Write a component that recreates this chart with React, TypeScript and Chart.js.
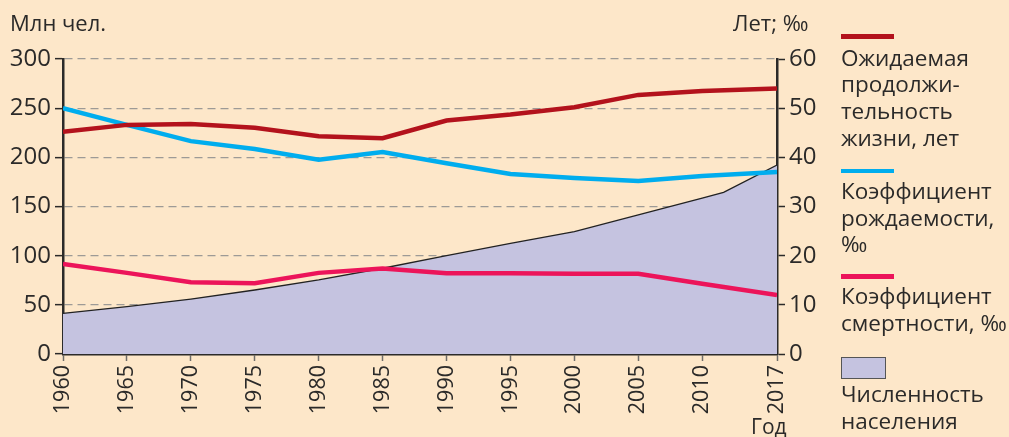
import React, { useEffect, useRef } from "react";
import { Chart, registerables } from "chart.js";

Chart.register(...registerables);

const years = [1960, 1965, 1970, 1975, 1980, 1985, 1990, 1995, 2000, 2005, 2010, 2017];
const lifeExpectancy = [45.2, 46.6, 46.8, 46.0, 44.3, 43.9, 47.5, 48.7, 50.2, 52.7, 53.5, 54.0];
const birthRate = [50.0, 46.6, 43.3, 41.7, 39.5, 41.1, 38.8, 36.6, 35.8, 35.2, 36.2, 37.0];
const deathRate = [18.3, 16.5, 14.6, 14.4, 16.5, 17.4, 16.4, 16.4, 16.3, 16.3, 14.3, 12.0];
const popYears = [1960, 1965, 1970, 1975, 1980, 1985, 1990, 1995, 2000, 2005, 2010, 2012, 2017];
const population = [41.4, 48.1, 55.9, 65.1, 75.3, 87.2, 100, 112.6, 124.4, 141.4, 158.6, 164.4, 192.2];

const leftTicks = [0, 50, 100, 150, 200, 250, 300];
const rightTicks = [0, 10, 20, 30, 40, 50, 60];

const BG = "#fde7c9";
const INK = "#2b2a29";
const FONT = "'Open Sans', 'Noto Sans', sans-serif";
const LAST_SPAN = 1.17;

// axis position of a year: five-year steps are evenly spaced, last step 2010-2017 slightly wider
const posOf = (year: number) =>
  year <= 2010 ? (year - 1960) / 5 : 10 + ((year - 2010) / 7) * LAST_SPAN;

export default function App() {
  const ref = useRef<HTMLCanvasElement | null>(null);

  useEffect(() => {
    document.body.style.margin = "0";
    const canvas = ref.current!;
    const chart = new Chart(canvas, {
      type: "line",
      data: {
        datasets: [
          {
            label: "Ожидаемая продолжительность жизни, лет",
            data: years.map((y, i) => ({ x: posOf(y), y: lifeExpectancy[i] })),
            borderColor: "#b3121c",
            borderWidth: 4.5,
            pointRadius: 0,
            yAxisID: "y1",
            xAxisID: "x",
          },
          {
            label: "Коэффициент рождаемости, ‰",
            data: years.map((y, i) => ({ x: posOf(y), y: birthRate[i] })),
            borderColor: "#00adee",
            borderWidth: 4.5,
            pointRadius: 0,
            yAxisID: "y1",
            xAxisID: "x",
          },
          {
            label: "Коэффициент смертности, ‰",
            data: years.map((y, i) => ({ x: posOf(y), y: deathRate[i] })),
            borderColor: "#ec145a",
            borderWidth: 4.5,
            pointRadius: 0,
            yAxisID: "y1",
            xAxisID: "x",
          },
          {
            label: "Численность населения",
            data: popYears.map((y, i) => ({ x: posOf(y), y: population[i] })),
            borderColor: "#222222",
            borderWidth: 1.3,
            backgroundColor: "#c5c3e0",
            fill: "origin",
            pointRadius: 0,
            yAxisID: "y",
            xAxisID: "x",
          },
        ],
      },
      options: {
        responsive: false,
        animation: false,
        devicePixelRatio: 1,
        layout: { padding: { top: 59, left: 0, right: 0, bottom: 0 } },
        plugins: { legend: { display: false }, tooltip: { enabled: false } },
        scales: {
          x: {
            type: "linear",
            position: "bottom",
            min: 0,
            max: posOf(2017),
            z: 1,
            afterFit: (s: any) => {
              s.height = 83;
            },
            afterBuildTicks: (s: any) => {
              s.ticks = years.map((y) => ({ value: posOf(y) }));
            },
            grid: {
              drawOnChartArea: false,
              tickLength: 7,
              tickColor: "#6f6c69",
              tickWidth: 1.5,
            },
            border: { color: INK, width: 2.5 },
            ticks: {
              autoSkip: false,
              maxRotation: 90,
              minRotation: 90,
              padding: 4,
              color: INK,
              font: { family: FONT, size: 21.5 },
              callback: (_v: any, i: number) => String(years[i]),
            },
          },
          y: {
            type: "linear",
            position: "left",
            min: 0,
            max: 300,
            z: 1,
            afterFit: (s: any) => {
              s.width = 63;
            },
            grid: {
              color: (ctx: any) =>
                ctx.tick && ctx.tick.value !== 0 && leftTicks.includes(ctx.tick.value)
                  ? "#9d9a96"
                  : "rgba(0,0,0,0)",
              lineWidth: 1.3,
              tickLength: 8,
              tickColor: INK,
              tickWidth: 1.5,
            },
            border: { color: INK, width: 2.5, dash: [8, 5] },
            ticks: {
              stepSize: 25,
              padding: 4,
              color: INK,
              font: { family: FONT, size: 24 },
              callback: (v: any) => (leftTicks.includes(Number(v)) ? String(v) : ""),
            },
          },
          y1: {
            type: "linear",
            position: "right",
            min: 0,
            max: 60,
            z: 1,
            afterFit: (s: any) => {
              s.width = 232;
            },
            grid: {
              drawOnChartArea: false,
              tickLength: 8,
              tickColor: INK,
              tickWidth: 1.5,
            },
            border: { color: INK, width: 2.5 },
            ticks: {
              stepSize: 5,
              padding: 4,
              color: INK,
              font: { family: FONT, size: 24 },
              callback: (v: any) => (rightTicks.includes(Number(v)) ? String(v) : ""),
            },
          },
        },
      },
    } as any);
    return () => chart.destroy();
  }, []);

  const text = (
    content: React.ReactNode,
    left: number,
    top: number,
    size: number,
    lh: number,
    extra: React.CSSProperties = {}
  ) => (
    <div
      style={{
        position: "absolute",
        left,
        top,
        fontFamily: FONT,
        fontSize: size,
        lineHeight: `${lh}px`,
        color: INK,
        whiteSpace: "nowrap",
        ...extra,
      }}
    >
      {content}
    </div>
  );

  const lineSample = (color: string, top: number) => (
    <div style={{ position: "absolute", left: 841, top, width: 53, height: 4.5, background: color }} />
  );

  return (
    <div style={{ position: "fixed", left: 0, top: 0, width: 1009, height: 437, background: BG, overflow: "hidden" }}>
      <canvas ref={ref} width={1009} height={437} style={{ position: "absolute", left: 0, top: 0, width: 1009, height: 437 }} />
      {text("Млн чел.", 10, 10.5, 22, 22)}
      {text("Лет; ‰", 733, 10.5, 22, 22)}
      {text("Год", 751, 416, 21, 21)}
      {lineSample("#b3121c", 34)}
      {text(<>Ожидаемая<br />продолжи-<br />тельность<br />жизни, лет</>, 841, 44.6, 22.5, 26.7)}
      {lineSample("#00adee", 168.5)}
      {text(<>Коэффициент<br />рождаемости,<br />‰</>, 841, 177.9, 22.5, 26.7)}
      {lineSample("#ec145a", 274)}
      {text(<>Коэффициент<br />смертности, ‰</>, 841, 282.9, 22.5, 26.7)}
      <div style={{ position: "absolute", left: 841, top: 357, width: 45, height: 22, boxSizing: "border-box", background: "#c5c3e0", border: "1.5px solid #555" }} />
      {text(<>Численность<br />населения</>, 841, 380.9, 22.5, 26.7)}
    </div>
  );
}
